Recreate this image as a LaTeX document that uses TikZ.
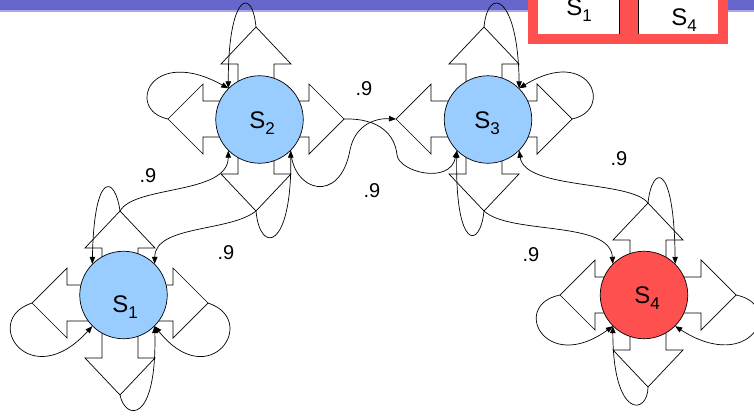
\documentclass[tikz,border=0pt]{standalone}
\usepackage{fontspec}
\setmainfont{Liberation Sans}
\usetikzlibrary{arrows.meta}
\definecolor{barblue}{HTML}{6666CC}
\definecolor{barline}{HTML}{A8A8E4}
\definecolor{stateblue}{HTML}{99CCFF}
\definecolor{statered}{HTML}{FF5050}
% lowered, smaller index after a state letter
\newcommand{\sbs}[1]{\raisebox{-0.26em}{\fontsize{17pt}{17pt}\selectfont #1}}
\begin{document}
\begin{tikzpicture}[x=1pt,y=-1pt,line width=0.7pt,
  state/.style={circle,draw,line width=0.7pt,minimum size=87.5pt,inner sep=0pt},
  lbl/.style={font=\fontsize{24pt}{24pt}\selectfont,inner sep=0pt,anchor=base west},
  prob/.style={font=\fontsize{20pt}{20pt}\selectfont,inner sep=0pt},
  blockline/.style={draw=black,fill=white,line width=0.7pt},
  link/.style={line width=0.7pt,-{Triangle[length=7pt,width=5.5pt]}},
  % four block arrows pointing away from a common centre
  crossarrows/.pic={
    \draw[blockline] (-18,-55) -- (-35,-55) -- (0,-92) -- (35,-55) -- (18,-55) -- (18,-18)
      -- (53,-18) -- (53,-35) -- (88,0) -- (53,35) -- (53,18) -- (18,18)
      -- (18,55) -- (35,55) -- (0,92) -- (-35,55) -- (-18,55) -- (-18,18)
      -- (-53,18) -- (-53,35) -- (-88,0) -- (-53,-35) -- (-53,-18) -- (-18,-18) -- cycle;
    \coordinate (-n) at (0,-92);
    \coordinate (-s) at (0,92);
    \coordinate (-e) at (88,0);
    \coordinate (-w) at (-88,0);
  }]
\useasboundingbox (0,0) rectangle (754,415);
\clip (0,0) rectangle (754,415);

% title bar
\fill[barblue] (0,0) rectangle (754,10);
\fill[barline] (0,10) rectangle (754,11.5);

% legend boxes
\fill[statered] (528,-2) rectangle (728,44);
\fill[white] (538,-2) rectangle (619,34);
\fill[white] (638,-2) rectangle (718,34);
\draw[line width=0.6pt] (619,-2) -- (619,34);
\draw[line width=0.6pt] (638,-2) -- (638,34);
\node[lbl] (k1) at (566,15) {S\sbs{1}};
\node[lbl] (k4) at (671,25) {S\sbs{4}};

% block arrows behind the states
\pic (c2) at (256,119) {crossarrows};
\pic (c3) at (484,119) {crossarrows};
\pic (c1) at (120,303) {crossarrows};
\pic (c4) at (648,295) {crossarrows};

% states
\node[state,fill=stateblue] (s2) at (259.5,119.5) {};
\node[state,fill=stateblue] (s3) at (488,119.5) {};
\node[state,fill=stateblue] (s1) at (123.5,295) {};
\node[state,fill=statered] (s4) at (644,295) {};
\node[lbl] (t2) at (249,128) {S\sbs{2}};
\node[lbl] (t3) at (474,128) {S\sbs{3}};
\node[lbl] (t1) at (112,312) {S\sbs{1}};
\node[lbl] (t4) at (634,303) {S\sbs{4}};

% self loops of S2
\draw[link] (c2-n) .. controls (252,-15) and (228,-5) .. (s2.135);
\draw[link] (c2-w) .. controls (125,110) and (150,45) .. (s2.135);
\draw[link] (c2-s) .. controls (260,255) and (292,250) .. (s2.-45);
% self loops of S3
\draw[link] (c3-n) .. controls (488,-15) and (518,-5) .. (s3.45);
\draw[link] (c3-e) .. controls (615,110) and (590,45) .. (s3.45);
\draw[link] (c3-s) .. controls (480,250) and (455,250) .. (s3.-135);
% self loops of S1
\draw[link] (c1-n) .. controls (115,175) and (94,170) .. (s1.135);
\draw[link] (c1-w) .. controls (-20,320) and (30,395) .. (s1.-135);
\draw[link] (c1-e) .. controls (260,320) and (210,395) .. (s1.-45);
\draw[link] (c1-s) .. controls (125,420) and (157,425) .. (s1.-45);
% self loops of S4
\draw[link] (c4-n) .. controls (652,165) and (674,160) .. (s4.45);
\draw[link] (c4-w) .. controls (510,305) and (545,375) .. (s4.-135);
\draw[link] (c4-e) .. controls (786,305) and (751,375) .. (s4.-45);
\draw[link] (c4-s) .. controls (648,415) and (613,420) .. (s4.-135);

% transitions between states
\draw[link] (c1-n) .. controls (135,185) and (228,195) .. (s2.-135);
\draw[link] (c2-s) .. controls (230,232) and (155,225) .. (s1.45);
\draw[link] (c2-e) .. controls (380,118) and (395,135) .. (397,155)
                   .. controls (399,172) and (450,185) .. (s3.-135);
\draw[link] (s2.-45) .. controls (293,192) and (340,205) .. (350,150)
                     .. controls (355,125) and (375,118) .. (c3-w);
\draw[link] (c3-s) .. controls (510,235) and (610,220) .. (s4.135);
\draw[link] (c4-n) .. controls (630,180) and (525,190) .. (s3.-45);

% probabilities
\node[prob] (p1) at (148,176) {.9};
\node[prob] (p2) at (226,253) {.9};
\node[prob] (p3) at (364,89) {.9};
\node[prob] (p4) at (372,191) {.9};
\node[prob] (p5) at (531,255) {.9};
\node[prob] (p6) at (619,159) {.9};
\end{tikzpicture}
\end{document}
